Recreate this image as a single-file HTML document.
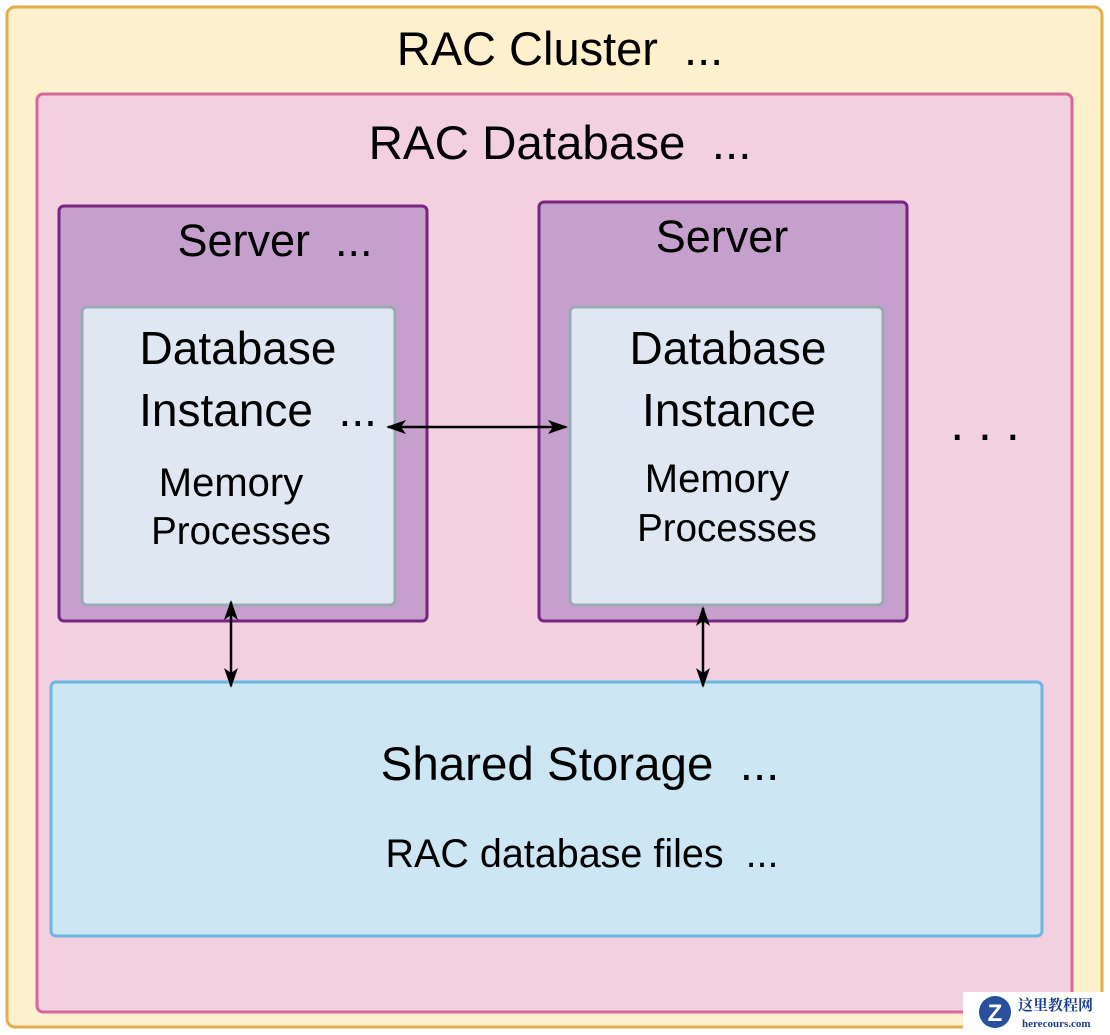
<!DOCTYPE html>
<html><head><meta charset="utf-8"><style>
html,body{margin:0;padding:0;background:#fff;}
svg{display:block;font-family:"Liberation Sans",Arial,sans-serif;}
</style></head><body>
<svg width="1110" height="1035" viewBox="0 0 1110 1035" xmlns="http://www.w3.org/2000/svg">
<defs>
<marker id="a" viewBox="0 0 20 14" refX="18" refY="7" markerWidth="20" markerHeight="14" markerUnits="userSpaceOnUse" orient="auto-start-reverse">
<path d="M0,0 L20,7 L0,14 L5,7 Z" fill="#000"/>
</marker>
</defs>
<rect x="7" y="7" width="1095" height="1020" rx="8" fill="#fcf0cd" stroke="#e3ae4b" stroke-width="3"/>
<text x="560" y="65" font-size="47" text-anchor="middle">RAC Cluster&#160;&#160;...</text>
<rect x="37" y="94" width="1035" height="918" rx="6" fill="#f2d0df" stroke="#d6689c" stroke-width="3"/>
<text x="560" y="159" font-size="47.5" text-anchor="middle">RAC Database&#160;&#160;...</text>

<rect x="59" y="206" width="368" height="415" rx="5" fill="#c5a0cc" stroke="#782481" stroke-width="3"/>
<text x="275" y="256" font-size="45" text-anchor="middle">Server&#160;&#160;...</text>
<rect x="82" y="307" width="313" height="298" rx="5" fill="#dfe8f2" stroke="#9aaab4" stroke-width="3"/>
<text x="238" y="364" font-size="46" text-anchor="middle">Database</text>
<text x="258" y="426" font-size="46" text-anchor="middle">Instance&#160;&#160;...</text>
<text x="231" y="496" font-size="40" text-anchor="middle">Memory</text>
<text x="241" y="544" font-size="38.5" text-anchor="middle">Processes</text>

<rect x="539" y="202" width="368" height="419" rx="5" fill="#c5a0cc" stroke="#782481" stroke-width="3"/>
<text x="722" y="252" font-size="45" text-anchor="middle">Server</text>
<rect x="570" y="307" width="313" height="298" rx="5" fill="#dfe8f2" stroke="#9aaab4" stroke-width="3"/>
<text x="728" y="364" font-size="46" text-anchor="middle">Database</text>
<text x="729" y="426" font-size="46" text-anchor="middle">Instance</text>
<text x="717" y="492" font-size="40" text-anchor="middle">Memory</text>
<text x="727" y="541" font-size="38.5" text-anchor="middle">Processes</text>

<text x="985" y="440" font-size="50" text-anchor="middle">. . .</text>

<line x1="388" y1="427" x2="566" y2="427" stroke="#000" stroke-width="2.5" marker-start="url(#a)" marker-end="url(#a)"/>

<rect x="51" y="682" width="991" height="254" rx="5" fill="#cce6f4" stroke="#6cb6e2" stroke-width="3"/>
<text x="580" y="780" font-size="47.5" text-anchor="middle">Shared Storage&#160;&#160;...</text>
<text x="582" y="867" font-size="39.5" text-anchor="middle">RAC database files&#160;&#160;...</text>

<line x1="231" y1="602" x2="231" y2="686" stroke="#000" stroke-width="2.5" marker-start="url(#a)" marker-end="url(#a)"/>
<line x1="703" y1="608" x2="703" y2="686" stroke="#000" stroke-width="2.5" marker-start="url(#a)" marker-end="url(#a)"/>

<rect x="963" y="992" width="144" height="40" fill="#fff"/>
<circle cx="995" cy="1012" r="16" fill="#2a4f9e"/>
<text x="995" y="1021" font-size="24" font-weight="bold" fill="#fff" text-anchor="middle">Z</text>
<text x="1018" y="1010" font-size="15" font-weight="bold" fill="#1a3d8c" font-family="'Noto Serif CJK SC','Noto Sans CJK SC',serif">这里教程网</text>
<text x="1022" y="1027" font-size="11" font-weight="bold" fill="#1a3d8c" font-family="'Liberation Serif',serif">herecours.com</text>
</svg>
</body></html>
